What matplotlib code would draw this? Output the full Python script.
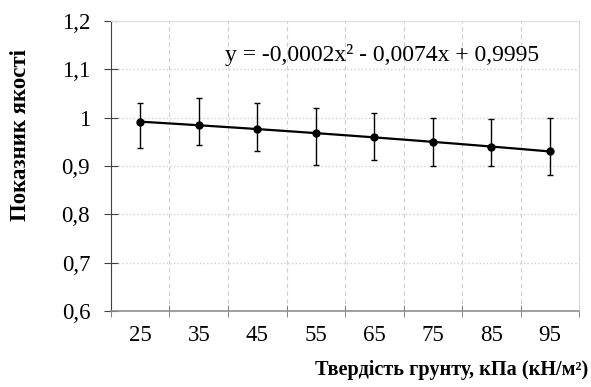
import numpy as np
import matplotlib.pyplot as plt
from matplotlib.ticker import FixedLocator

# soil hardness categories, quality index and error bar ends
hardness = ["25", "35", "45", "55", "65", "75", "85", "95"]
quality = [0.991, 0.985, 0.977, 0.968, 0.959, 0.950, 0.939, 0.931]
err_top = [1.030, 1.040, 1.030, 1.020, 1.010, 1.000, 0.997, 1.000]
err_bottom = [0.937, 0.943, 0.931, 0.902, 0.912, 0.901, 0.901, 0.881]
equation = "y = -0,0002x² - 0,0074x + 0,9995"

plt.rcParams['font.family'] = ['Liberation Serif', 'DejaVu Serif']


def main():
    fig = plt.figure(figsize=(5.91, 3.87), dpi=100)
    ax = fig.add_axes([0.1878, 0.1964, 0.792, 0.7493])

    x = np.arange(len(hardness))
    q = np.array(quality)
    lower = q - np.array(err_bottom)
    upper = np.array(err_top) - q

    # excel style polynomial trend over category index 1..n
    coef = np.polyfit(x + 1, q, 2)
    xs = np.linspace(0, len(x) - 1, 50)
    ax.plot(xs, np.polyval(coef, xs + 1), color="black", linewidth=1.6, zorder=3)

    ax.errorbar(x, q, yerr=[lower, upper], fmt="o", color="black",
                markersize=5, elinewidth=1, capsize=2.3, capthick=1, zorder=4)

    ax.set_xlim(-0.5, len(x) - 0.5)
    ax.set_ylim(0.6, 1.2)
    ax.set_xticks(x)
    ax.set_xticklabels(hardness)
    ax.xaxis.set_minor_locator(FixedLocator(np.arange(-0.5, len(x), 1)))
    ax.set_yticks(np.arange(0.6, 1.21, 0.1))
    ax.set_yticklabels(["0,6", "0,7", "0,8", "0,9", "1", "1,1", "1,2"])

    ax.tick_params(axis="x", which="major", length=0, labelsize=16.5, pad=10)
    ax.tick_params(axis="x", which="minor", direction="inout", length=8,
                   color="#707070")
    ax.tick_params(axis="y", direction="inout", length=10, color="#404040",
                   labelsize=16.5, pad=10)

    ax.grid(axis="y", which="major", color="#d0d0d0", linestyle=":", linewidth=1)
    ax.grid(axis="x", which="minor", color="#d0d0d0", linestyle=(0, (4, 3)),
            linewidth=0.8)
    ax.set_axisbelow(True)

    ax.spines["left"].set_color("#404040")
    ax.spines["bottom"].set_color("#909090")
    ax.spines["bottom"].set_linewidth(1.2)
    ax.spines["top"].set_color("#e0e0e0")
    ax.spines["right"].set_color("#d8d8d8")

    ax.text(1.45, 1.13, equation, fontsize=17, va="center", ha="left")

    fig.text(0.995, 0.045, "Твердість грунту, кПа (кН/м²)", ha="right",
             va="center", fontsize=14.6, fontweight="bold")
    fig.text(0.034, 0.651, "Показник якості", rotation=90, ha="center",
             va="center", fontsize=16.5, fontweight="bold")

    fig.savefig("out.png", dpi=100)


if __name__ == "__main__":
    main()
